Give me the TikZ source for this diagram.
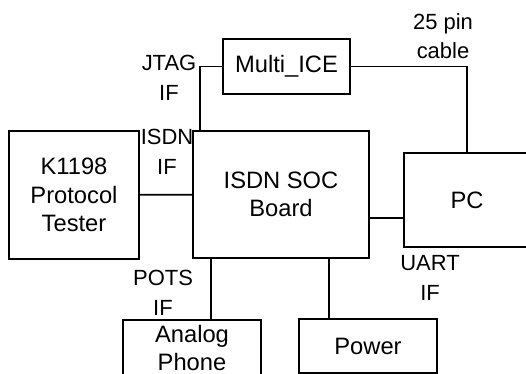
\documentclass[tikz,border=0pt]{standalone}
\usepackage{fontspec}
\setmainfont{Liberation Sans}
\usetikzlibrary{positioning}

\tikzset{
  unit/.style={draw, line width=1pt, inner sep=0pt, outer sep=0pt, align=center,
    font=\fontsize{13.5}{16.2}\selectfont},
  iflabel/.style={align=center, font=\fontsize{12.5}{16.8}\selectfont}
}

\begin{document}
\begin{tikzpicture}[x=0.02cm, y=-0.02cm, line width=1pt]
\useasboundingbox (0,0) rectangle (526,374);

% blocks
\node[unit, minimum width=2.54cm, minimum height=1.10cm] (ice) at (286.5,66.5) {Multi\_ICE};
\node[unit, minimum width=2.60cm, minimum height=2.56cm] (tester) at (74,195) {K1198\\Protocol\\Tester};
\node[unit, minimum width=3.52cm, minimum height=2.54cm] (board) at (281,194.5) {ISDN SOC\\Board};
\node[unit, minimum width=2.52cm, minimum height=1.88cm] (pc) at (467,200) {PC};
\node[unit, minimum width=2.76cm, minimum height=1.12cm] (phone) at (192,348) {Analog\\Phone};
\node[unit, minimum width=2.76cm, minimum height=1.08cm] (power) at (368,346) {Power};

% tap points on the board
\coordinate (jtag) at (200,131);
\coordinate (uart) at (369,218);
\coordinate (pots) at (211,258);
\coordinate (pwr) at (329,258);

% links
\draw (ice.west) -| (jtag);
\draw (ice.east) -| (pc.north);
\draw (tester) -- (board);
\draw (uart) -- (uart -| pc.west);
\draw (pots) -- (pots |- phone.north);
\draw (pwr) -- (pwr |- power.north);

% interface labels
\node[iflabel] (jtaglbl) at (169,78) {JTAG\\IF};
\node[iflabel] (isdnlbl) at (167,152) {ISDN\\IF};
\node[iflabel] (cablelbl) at (443,36) {25 pin\\cable};
\node[iflabel] (potslbl) at (163,293) {POTS\\IF};
\node[iflabel] (uartlbl) at (430,278) {UART\\IF};

\end{tikzpicture}
\end{document}
